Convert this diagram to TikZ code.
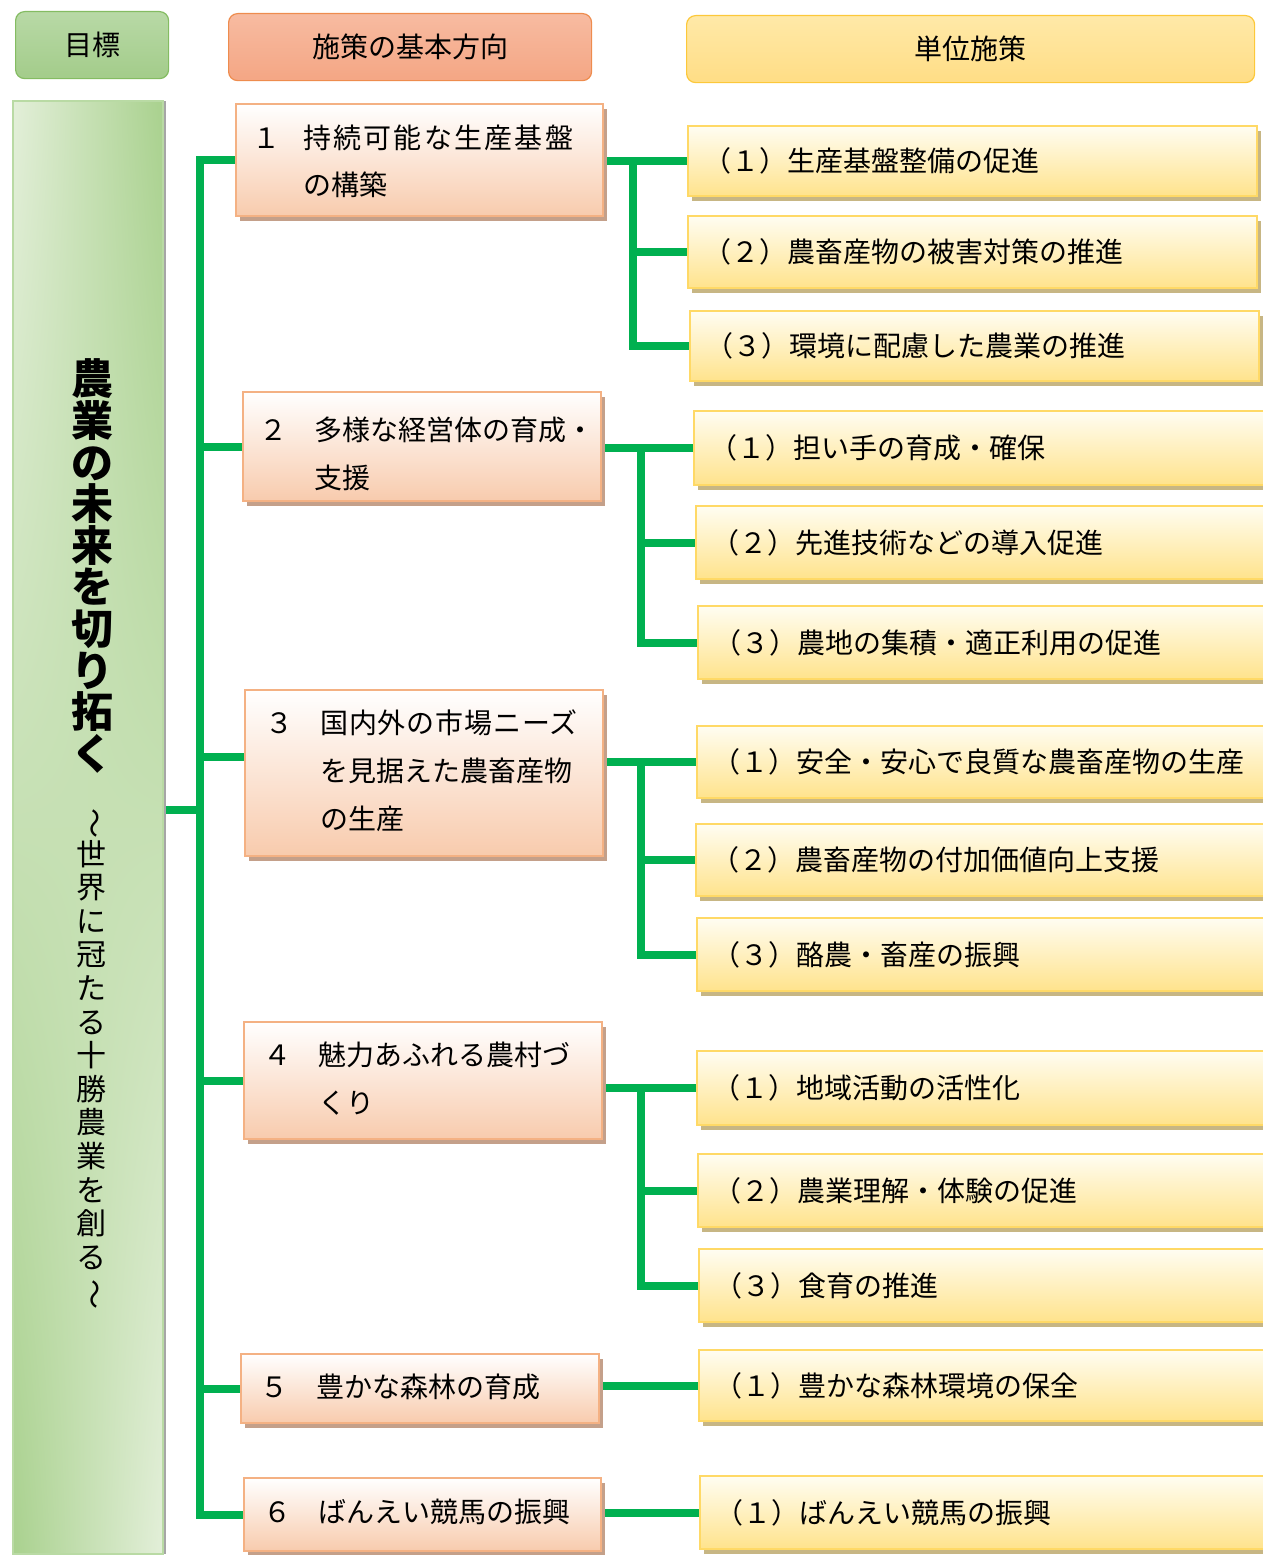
\documentclass[tikz,border=0pt]{standalone}
\usepackage{fontspec}
\setmainfont{Noto Sans CJK JP}
\usepackage{graphicx}
\usetikzlibrary{shadows,shadings}
\pgfdeclarelayer{bg}
\pgfsetlayers{bg,main}
\newcommand\fsz{\fontsize{28}{33}\selectfont}
\newcommand\vtA{\fontsize{42}{41.6}\selectfont\bfseries\setlength\lineskiplimit{-100pt}}
\newcommand\vtB{\fontsize{30}{33.6}\selectfont\setlength\lineskiplimit{-100pt}}
\definecolor{lineG}{HTML}{00B050}
\definecolor{goalL}{HTML}{E3EFD9}
\definecolor{goalD}{HTML}{A9D18E}
\definecolor{goalB}{HTML}{B9DAA4}
\definecolor{hAT}{HTML}{B8D9A6}
\definecolor{hAB}{HTML}{A3CC8A}
\definecolor{hAL}{HTML}{84BC62}
\definecolor{hBT}{HTML}{F7BBA1}
\definecolor{hBB}{HTML}{F4A684}
\definecolor{hBL}{HTML}{EE8C4E}
\definecolor{hCT}{HTML}{FFE9A8}
\definecolor{hCB}{HTML}{FFDD85}
\definecolor{hCL}{HTML}{FCC83A}
\definecolor{midB}{HTML}{F4B183}
\definecolor{midBot}{HTML}{F8CBAD}
\definecolor{midSh}{HTML}{C4A08A}
\definecolor{rB}{HTML}{FFD966}
\definecolor{rTop}{HTML}{FFFDF2}
\definecolor{rBot}{HTML}{FFE38C}
\definecolor{rSh}{HTML}{C7B684}
\begin{document}
\begin{tikzpicture}[x=1pt,y=-1pt,
  hdr/.style={line width=1.2pt, rounded corners=9pt, anchor=north west, inner sep=0pt, font=\fsz, minimum height=67pt},
  goalbox/.style={draw=goalB, line width=1.5pt, upper left=goalL, upper right=goalD, lower left=goalD, lower right=goalL,
     anchor=north west, inner sep=0pt, drop shadow={shadow xshift=3pt, shadow yshift=0pt, fill=black!35, opacity=1}},
  midbox/.style={draw=midB, line width=2pt, top color=white, bottom color=midBot, anchor=north west, inner sep=0pt,
     drop shadow={shadow xshift=4pt, shadow yshift=-5pt, fill=midSh, opacity=1}},
  mtxt/.style={anchor=west, inner sep=0pt, font=\fsz},
  rbox/.style={draw=rB, line width=2pt, top color=rTop, bottom color=rBot, anchor=north west, inner xsep=15pt, inner ysep=0pt,
     align=left, font=\fsz, drop shadow={shadow xshift=4pt, shadow yshift=-5pt, fill=rSh, opacity=1}},
  conn/.style={draw=lineG, line width=8pt, line join=miter}]
\useasboundingbox (0,0) rectangle (1262,1555);

% headers
\node[hdr, draw=hAL, top color=hAT, bottom color=hAB, minimum width=153pt] (h1) at (15,11) {目標};
\node[hdr, draw=hBL, top color=hBT, bottom color=hBB, minimum width=363pt] (h2) at (228,13) {施策の基本方向};
\node[hdr, draw=hCL, top color=hCT, bottom color=hCB, minimum width=568pt] (h3) at (686,15) {単位施策};

% goal
\node[goalbox, minimum width=150pt, minimum height=1453pt] (g) at (12,100) {};
\node[inner sep=0pt, align=center, font=\vtA] (gt1) at (92,566)
  {農\\業\\の\\未\\来\\を\\切\\り\\拓\\く};
\node[inner sep=0pt, align=center, font=\vtB] (gt2) at (91,1059)
  {\rotatebox[origin=c]{-90}{～}\\世\\界\\に\\冠\\た\\る\\十\\勝\\農\\業\\を\\創\\る\\\rotatebox[origin=c]{-90}{～}};

% middle boxes
\node[midbox, minimum width=367pt, minimum height=112pt] (m1) at (235,103) {};
\node[midbox, minimum width=358pt, minimum height=109pt] (m2) at (242,391) {};
\node[midbox, minimum width=358pt, minimum height=166pt] (m3) at (244,689) {};
\node[midbox, minimum width=358pt, minimum height=117pt] (m4) at (243,1021) {};
\node[midbox, minimum width=358pt, minimum height=69pt] (m5) at (240,1353) {};
\node[midbox, minimum width=357pt, minimum height=73pt] (m6) at (243,1477) {};

\node[mtxt] (m1a) at (252,138) {\makebox[51pt][l]{１}\addfontfeature{LetterSpace=8}持続可能な生産基盤};
\node[mtxt] (m1b) at (303,185) {の構築};
\node[mtxt] (m2a) at (259,430) {\makebox[55pt][l]{２}多様な経営体の育成・};
\node[mtxt] (m2b) at (314,478) {支援};
\node[mtxt] (m3a) at (265,723) {\makebox[55pt][l]{３}\addfontfeature{LetterSpace=3}国内外の市場ニーズ};
\node[mtxt] (m3b) at (320,771) {を見据えた農畜産物};
\node[mtxt] (m3c) at (320,819) {の生産};
\node[mtxt] (m4a) at (263,1055) {\makebox[55pt][l]{４}魅力あふれる農村づ};
\node[mtxt] (m4b) at (318,1103) {くり};
\node[mtxt] (m5a) at (260,1387) {\makebox[56pt][l]{５}豊かな森林の育成};
\node[mtxt] (m6a) at (263,1512) {\makebox[55pt][l]{６}ばんえい競馬の振興};

% right boxes
\node[rbox, text width=539pt, minimum height=70pt] (r11) at (687,125) {（１）生産基盤整備の促進};
\node[rbox, text width=539pt, minimum height=72pt] (r12) at (687,215) {（２）農畜産物の被害対策の推進};
\node[rbox, text width=539pt, minimum height=70pt] (r13) at (689,310) {（３）環境に配慮した農業の推進};
\node[rbox, text width=550pt, minimum height=74pt] (r21) at (693,410) {（１）担い手の育成・確保};
\node[rbox, text width=550pt, minimum height=73pt] (r22) at (695,505) {（２）先進技術などの導入促進};
\node[rbox, text width=550pt, minimum height=73pt] (r23) at (697,605) {（３）農地の集積・適正利用の促進};
\node[rbox, text width=550pt, minimum height=72pt] (r31) at (696,725) {（１）安全・安心で良質な農畜産物の生産};
\node[rbox, text width=550pt, minimum height=72pt] (r32) at (695,823) {（２）農畜産物の付加価値向上支援};
\node[rbox, text width=550pt, minimum height=73pt] (r33) at (696,917) {（３）酪農・畜産の振興};
\node[rbox, text width=550pt, minimum height=74pt] (r41) at (696,1050) {（１）地域活動の活性化};
\node[rbox, text width=550pt, minimum height=73pt] (r42) at (697,1153) {（２）農業理解・体験の促進};
\node[rbox, text width=550pt, minimum height=73pt] (r43) at (698,1248) {（３）食育の推進};
\node[rbox, text width=550pt, minimum height=71pt] (r51) at (698,1349) {（１）豊かな森林環境の保全};
\node[rbox, text width=550pt, minimum height=73pt] (r61) at (699,1475) {（１）ばんえい競馬の振興};

% connectors
\begin{pgfonlayer}{bg}
\coordinate (T) at (200,0);
\coordinate (b3) at (200,757);
\coordinate (gj) at (200,810);
\draw[conn] (m1.west) -| (T |- m6.west) -- (m6.west);
\draw[conn] (T |- m2.west) -- (m2.west);
\draw[conn] (b3) -- (b3 -| m3.west);
\draw[conn] (T |- m4.west) -- (m4.west);
\draw[conn] (T |- m5.west) -- (m5.west);
\draw[conn] (gj -| g.east) -- (gj);

\coordinate (S1) at (633,0);
\coordinate (S2) at (641,0);
\draw[conn] (r11.west -| m1.east) -- (r11.west);
\draw[conn] (S1 |- r11.west) |- (r13.west);
\draw[conn] (S1 |- r12.west) -- (r12.west);

\draw[conn] (r21.west -| m2.east) -- (r21.west);
\draw[conn] (S2 |- r21.west) |- (r23.west);
\draw[conn] (S2 |- r22.west) -- (r22.west);

\draw[conn] (r31.west -| m3.east) -- (r31.west);
\draw[conn] (S2 |- r31.west) |- (r33.west);
\draw[conn] (S2 |- r32.west) -- (r32.west);

\draw[conn] (r41.west -| m4.east) -- (r41.west);
\draw[conn] (S2 |- r41.west) |- (r43.west);
\draw[conn] (S2 |- r42.west) -- (r42.west);

\draw[conn] (r51.west -| m5.east) -- (r51.west);
\draw[conn] (r61.west -| m6.east) -- (r61.west);
\end{pgfonlayer}
\end{tikzpicture}
\end{document}
